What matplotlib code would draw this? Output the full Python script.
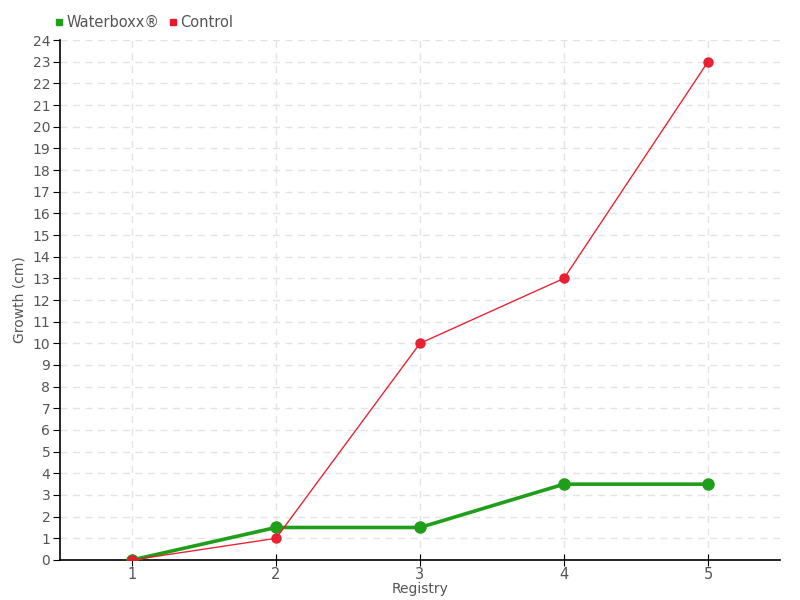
import matplotlib
matplotlib.use("Agg")
import matplotlib.pyplot as plt
from matplotlib.lines import Line2D

registry = [1, 2, 3, 4, 5]
waterboxx = [0, 1.5, 1.5, 3.5, 3.5]
control = [0, 1, 10, 13, 23]

green = "#1f9e1a"
red = "#e8192c"
grey = "#555555"

plt.rcParams["font.family"] = ["DejaVu Sans"]

fig = plt.figure(figsize=(8, 6), dpi=100)
ax = fig.add_axes([0.075, 0.0667, 0.9, 0.8666])

ax.plot(registry, waterboxx, color=green, lw=2.6, marker="o", ms=8, zorder=3)
ax.plot(registry, control, color=red, lw=1, marker="o", ms=6.5, alpha=0.95, zorder=4)

ax.set_xlim(0.5, 5.5)
ax.set_ylim(0, 24)
ax.set_xticks(registry)
ax.set_yticks(range(0, 25))
ax.grid(True, color="#e3e3e3", ls=(0, (5, 4)), lw=1)
ax.set_axisbelow(True)

for s in ("top", "right"):
    ax.spines[s].set_visible(False)
for s in ("left", "bottom"):
    ax.spines[s].set_color("black")
    ax.spines[s].set_linewidth(1.2)

ax.tick_params(axis="y", length=5, colors="black", labelcolor=grey, labelsize=10, pad=2)
ax.tick_params(axis="x", direction="inout", length=8, colors="black", labelcolor=grey, labelsize=10.5, pad=1)

ax.set_xlabel("Registry", color=grey, fontsize=10, labelpad=0)
ax.set_ylabel("Growth (cm)", color=grey, fontsize=10)
ax.yaxis.set_label_coords(-0.046, 0.5)

handles = [
    Line2D([], [], color=green, marker="s", ls="none", ms=5),
    Line2D([], [], color=red, marker="s", ls="none", ms=5),
]
fig.legend(handles, ["Waterboxx®", "Control"], loc="upper left",
           bbox_to_anchor=(0.052, 0.997), ncol=2, frameon=False,
           handlelength=0.6, handletextpad=0.2, columnspacing=0.6,
           fontsize=10.5, labelcolor=grey)

fig.savefig("out.png", dpi=100)
